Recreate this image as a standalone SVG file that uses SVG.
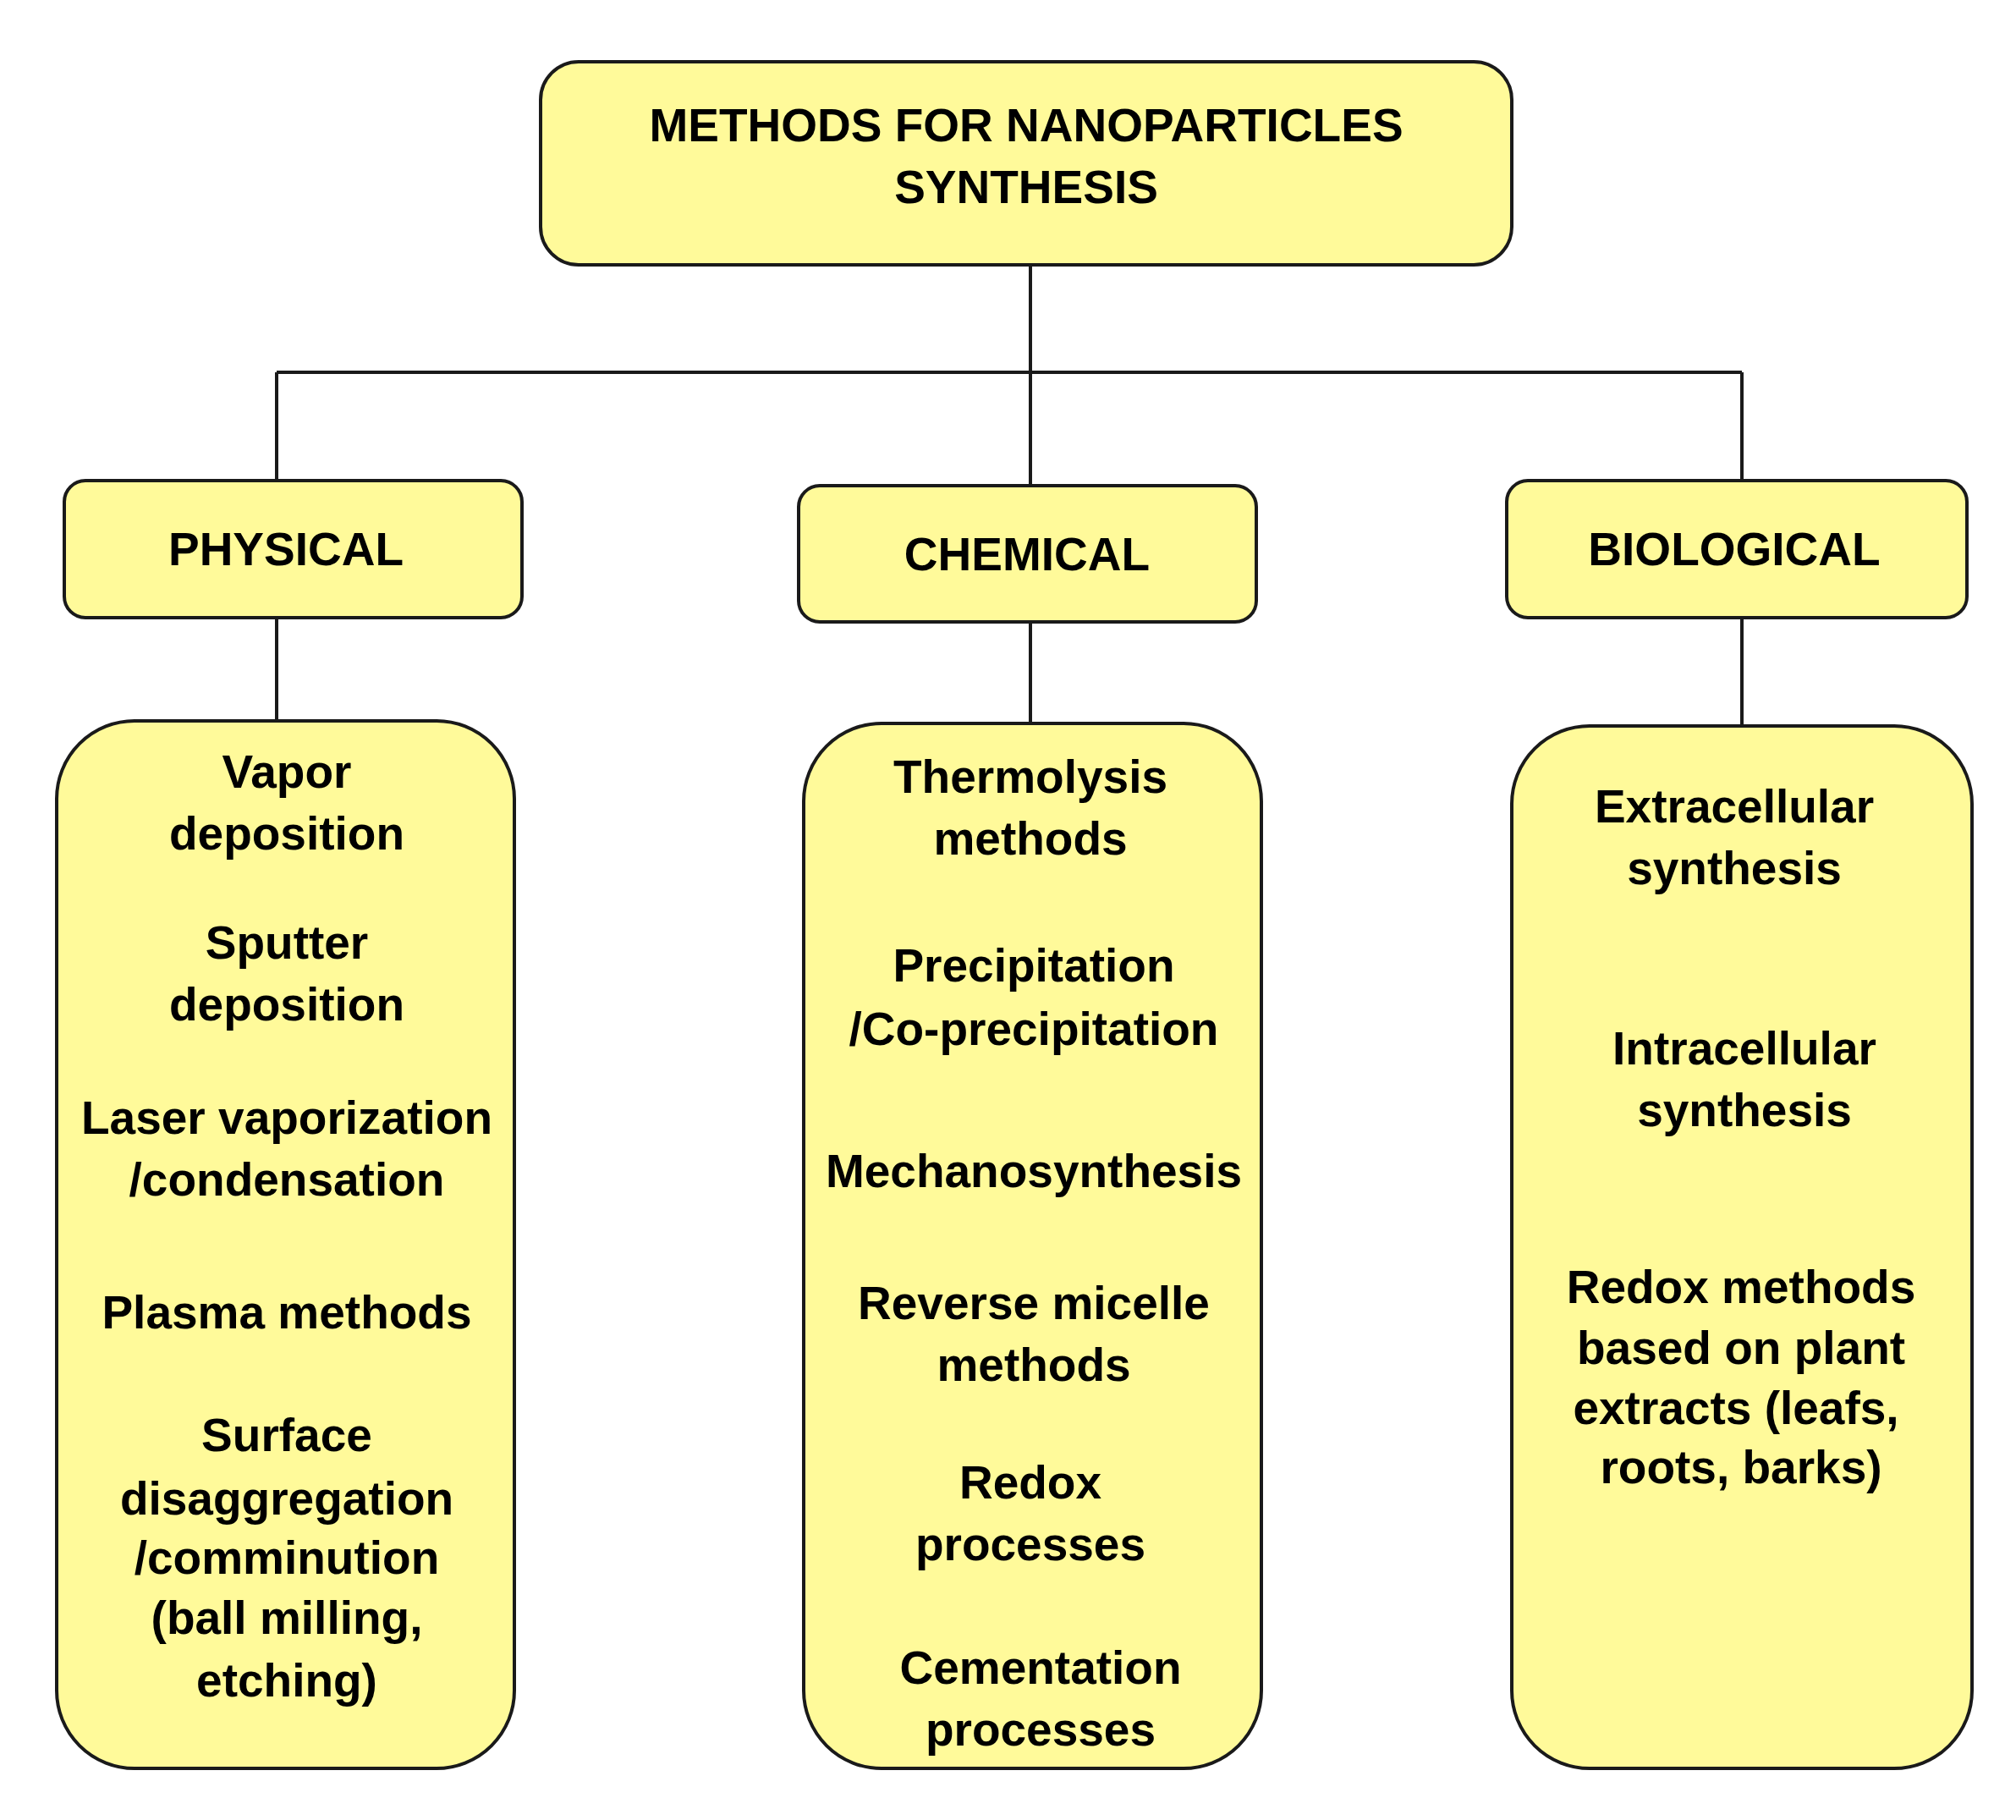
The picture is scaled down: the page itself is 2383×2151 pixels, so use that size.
<svg xmlns="http://www.w3.org/2000/svg" width="2383" height="2151" viewBox="0 0 2383 2151">
<style>
.b{fill:#FFFA9A;stroke:#1a1a1a;stroke-width:4}
.t{font-family:"Liberation Sans",Arial,sans-serif;font-weight:bold;font-size:55px;fill:#000;text-anchor:middle}
.c{stroke:#1a1a1a;stroke-width:4;fill:none}
</style>
<rect width="2383" height="2151" fill="#fff"/>
<g id="connectors">
<path class="c" d="M1218 313V573M327 440H2059M327 440V568M2059 440V568M327 730V852M1218 735V855M2059 730V858"/>
</g>
<g id="root"><rect class="b" x="639" y="73" width="1148" height="240" rx="45"/>
<text class="t" x="1213" y="167">METHODS FOR NANOPARTICLES</text><text class="t" x="1213" y="240">SYNTHESIS</text></g>
<g id="physical"><rect class="b" x="76" y="568" width="541" height="162" rx="25"/><text class="t" x="338" y="668">PHYSICAL</text></g>
<g id="chemical"><rect class="b" x="944" y="574" width="541" height="161" rx="25"/><text class="t" x="1214" y="674">CHEMICAL</text></g>
<g id="biological"><rect class="b" x="1781" y="568" width="544" height="162" rx="25"/><text class="t" x="2050" y="668">BIOLOGICAL</text></g>
<g id="physical-list"><rect class="b" x="67" y="852" width="541" height="1238" rx="92"/>
<text class="t" x="339"><tspan x="339" y="931">Vapor</tspan><tspan x="339" y="1004">deposition</tspan><tspan x="339" y="1133">Sputter</tspan><tspan x="339" y="1206">deposition</tspan><tspan x="339" y="1340">Laser vaporization</tspan><tspan x="339" y="1413">/condensation</tspan><tspan x="339" y="1570">Plasma methods</tspan><tspan x="339" y="1715">Surface</tspan><tspan x="339" y="1790">disaggregation</tspan><tspan x="339" y="1860">/comminution</tspan><tspan x="339" y="1931">(ball milling,</tspan><tspan x="339" y="2005">etching)</tspan></text></g>
<g id="chemical-list"><rect class="b" x="950" y="855" width="541" height="1235" rx="92"/>
<text class="t"><tspan x="1218" y="937">Thermolysis</tspan><tspan x="1218" y="1010">methods</tspan><tspan x="1222" y="1160">Precipitation</tspan><tspan x="1222" y="1235">/Co-precipitation</tspan><tspan x="1222" y="1403">Mechanosynthesis</tspan><tspan x="1222" y="1559">Reverse micelle</tspan><tspan x="1222" y="1632">methods</tspan><tspan x="1218" y="1771">Redox</tspan><tspan x="1218" y="1844">processes</tspan><tspan x="1230" y="1990">Cementation</tspan><tspan x="1230" y="2063">processes</tspan></text></g>
<g id="biological-list"><rect class="b" x="1787" y="858" width="544" height="1232" rx="92"/>
<text class="t"><tspan x="2050" y="972">Extracellular</tspan><tspan x="2050" y="1045">synthesis</tspan><tspan x="2062" y="1258">Intracellular</tspan><tspan x="2062" y="1331">synthesis</tspan><tspan x="2058" y="1540">Redox methods</tspan><tspan x="2058" y="1612">based on plant</tspan><tspan x="2052" y="1683">extracts (leafs,</tspan><tspan x="2058" y="1753">roots, barks)</tspan></text></g>
</svg>
